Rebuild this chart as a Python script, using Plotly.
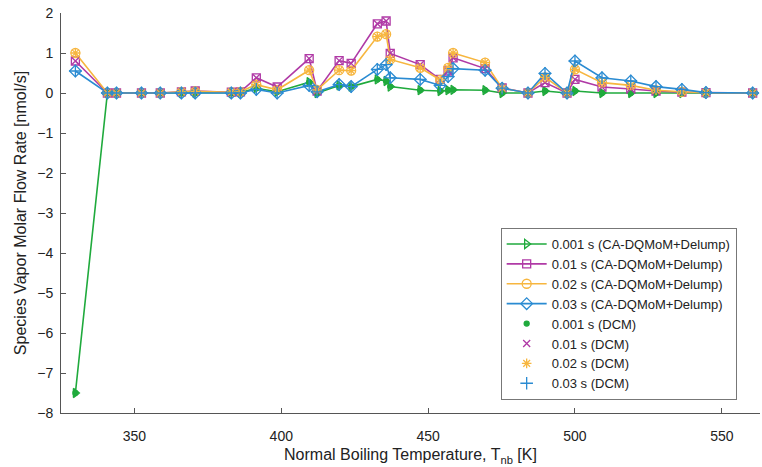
import plotly.graph_objects as go

# Normal boiling temperatures [K]
T_nb = [329.9, 340.8, 343.9, 352.4, 358.8, 366.0, 370.7, 383.0, 386.1, 391.5,
        398.6, 409.5, 412.2, 419.7, 423.8, 432.7, 435.7, 437.1, 447.3, 454.1,
        456.8, 458.5, 469.4, 475.2, 484.0, 489.8, 497.3, 500.0, 509.2, 519.0,
        527.6, 536.4, 544.6, 560.5]

# CA-DQMoM+Delump series [nmol/s]
ca_0001 = [-7.5, 0, 0, 0, 0, 0, 0, 0, 0.01, 0.12, 0.03, 0.27, 0.0, 0.19, 0.16,
           0.34, 0.30, 0.16, 0.07, 0.05, 0.07, 0.08, 0.07, 0.0, 0.0, 0.05, 0.0,
           0.05, 0.0, 0.0, 0.0, 0.0, 0.0, 0.0]
ca_001 = [0.8, 0, 0, 0, 0, 0.03, 0.05, 0.02, 0.03, 0.38, 0.15, 0.86, 0.05, 0.81,
          0.74, 1.73, 1.80, 0.99, 0.71, 0.34, 0.55, 0.88, 0.61, 0.13, 0.0, 0.26,
          0.0, 0.34, 0.15, 0.10, 0.05, 0.02, 0.01, 0.0]
ca_002 = [1.0, 0, 0, 0, 0, 0.03, 0.04, 0.02, 0.03, 0.21, 0.08, 0.57, 0.08, 0.57,
          0.56, 1.41, 1.47, 0.84, 0.63, 0.33, 0.63, 1.0, 0.76, 0.12, 0.0, 0.39,
          0.0, 0.59, 0.26, 0.19, 0.07, 0.03, 0.01, 0.0]
ca_003 = [0.55, 0, 0, 0, 0, 0, 0, 0, 0, 0.09, 0.0, 0.19, 0.03, 0.21, 0.16, 0.59,
          0.71, 0.38, 0.34, 0.19, 0.41, 0.61, 0.57, 0.12, 0.0, 0.49, 0.0, 0.80,
          0.38, 0.30, 0.16, 0.09, 0.01, 0.0]

# DCM series [nmol/s] (coincide with the CA-DQMoM results)
dcm_0001 = list(ca_0001)
dcm_001 = list(ca_001)
dcm_002 = list(ca_002)
dcm_003 = list(ca_003)

GREEN = "#1faa3c"
PURPLE = "#b03aa6"
ORANGE = "#f7b63f"
BLUE = "#2a8bd2"

fig = go.Figure()

line_series = [
    ("0.001 s (CA-DQMoM+Delump)", ca_0001, GREEN, "triangle-right-open", 8),
    ("0.01 s (CA-DQMoM+Delump)", ca_001, PURPLE, "square-open", 8),
    ("0.02 s (CA-DQMoM+Delump)", ca_002, ORANGE, "circle-open", 9),
    ("0.03 s (CA-DQMoM+Delump)", ca_003, BLUE, "diamond-open", 9),
]
for name, y, c, sym, sz in line_series:
    fig.add_trace(go.Scatter(
        x=T_nb, y=y, name=name, mode="lines+markers",
        line=dict(color=c, width=1.6),
        marker=dict(symbol=sym, size=sz, color=c, line=dict(width=1.3, color=c)),
    ))

dcm_series = [
    ("0.001 s (DCM)", dcm_0001, GREEN, "circle", 5),
    ("0.01 s (DCM)", dcm_001, PURPLE, "x-thin-open", 7),
    ("0.02 s (DCM)", dcm_002, ORANGE, "asterisk-open", 8),
    ("0.03 s (DCM)", dcm_003, BLUE, "cross-thin-open", 9),
]
for name, y, c, sym, sz in dcm_series:
    fig.add_trace(go.Scatter(
        x=T_nb, y=y, name=name, mode="markers",
        marker=dict(symbol=sym, size=sz, color=c, line=dict(width=1.3, color=c)),
    ))

axis_common = dict(
    showline=True, linecolor="#555555", linewidth=1,
    ticks="inside", ticklen=5, tickcolor="#555555",
    showgrid=False, zeroline=False, mirror=False,
    tickfont=dict(size=14, color="#222222"),
)

fig.update_layout(
    width=762, height=467,
    margin=dict(l=61, r=2, t=13, b=54),
    paper_bgcolor="white", plot_bgcolor="white",
    font=dict(family="Liberation Sans, Arial, sans-serif", color="#222222"),
    showlegend=True,
    legend=dict(
        x=0.629, y=0.4625, xanchor="left", yanchor="top",
        bgcolor="white", bordercolor="#777777", borderwidth=1,
        font=dict(size=13, color="#222222"),
        tracegroupgap=0, itemwidth=40,
    ),
    xaxis=dict(
        range=[325, 563], tickvals=[350, 400, 450, 500, 550],
        ticklabelstandoff=10,
        title=dict(text="Normal Boiling Temperature, T<sub>nb</sub> [K]",
                   font=dict(size=16), standoff=6),
        **axis_common,
    ),
    yaxis=dict(
        range=[-8, 2], tickvals=list(range(-8, 3)),
        ticklabelstandoff=4,
        title=dict(text="Species Vapor Molar Flow Rate [nmol/s]",
                   font=dict(size=16), standoff=6),
        **axis_common,
    ),
)

fig.write_html("out.html")
